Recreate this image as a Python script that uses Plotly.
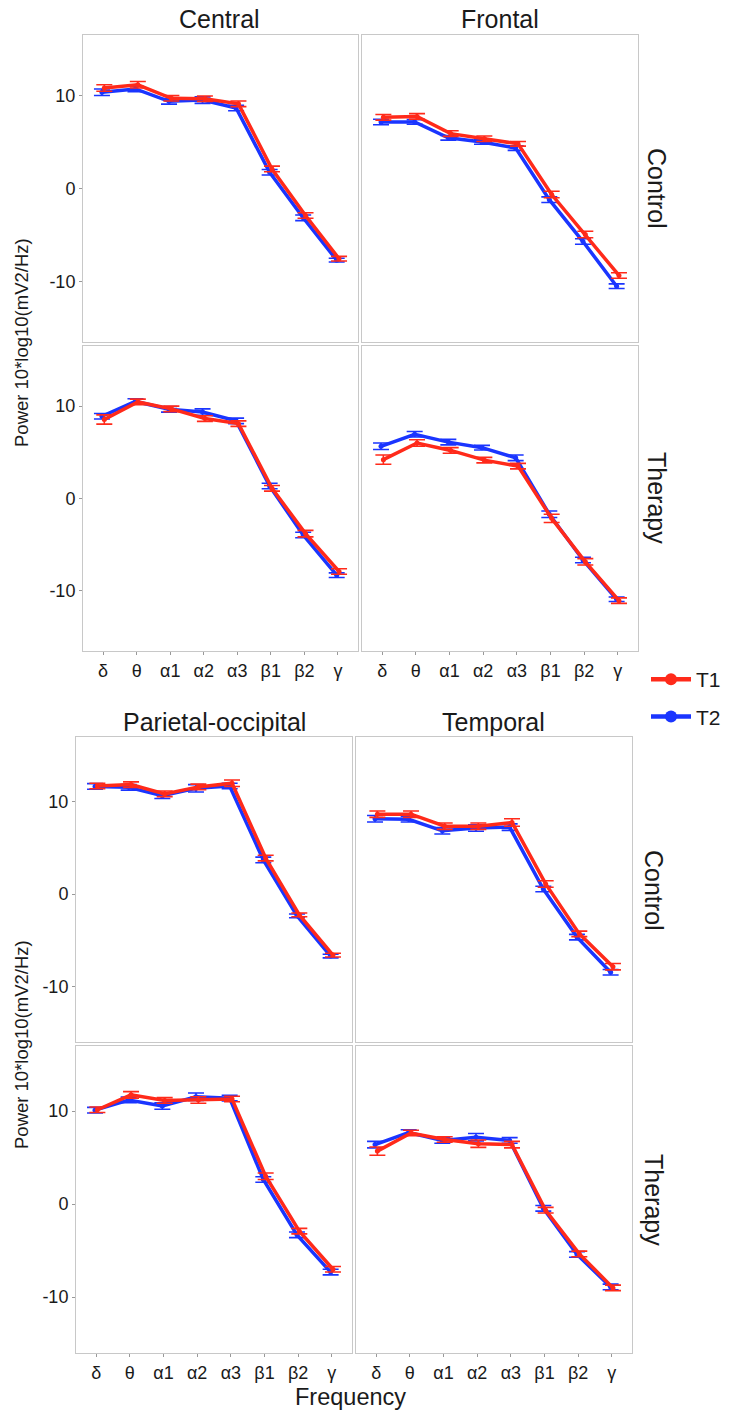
import plotly.graph_objects as go

W, H = 729, 1413

bands = ["δ", "θ", "α1", "α2", "α3", "β1", "β2", "γ"]
xpos = [1, 2, 3, 4, 5, 6, 7, 8]

# Means (T1 = red, T2 = blue)
central_control_t1 = [10.8, 11.15, 9.7, 9.65, 9.1, 2.1, -2.9, -7.55]
central_control_t2 = [10.35, 10.7, 9.37, 9.5, 8.65, 1.75, -3.15, -7.7]
frontal_control_t1 = [7.65, 7.75, 5.9, 5.35, 4.8, -0.65, -4.95, -9.35]
frontal_control_t2 = [7.15, 7.15, 5.45, 5.0, 4.35, -1.2, -5.7, -10.5]
central_therapy_t1 = [8.55, 10.45, 9.7, 8.65, 8.1, 1.1, -3.8, -7.9]
central_therapy_t2 = [8.9, 10.5, 9.65, 9.35, 8.4, 1.35, -3.95, -8.3]
frontal_therapy_t1 = [4.2, 6.0, 5.2, 4.15, 3.5, -2.15, -6.85, -11.05]
frontal_therapy_t2 = [5.65, 6.95, 6.1, 5.5, 4.4, -1.7, -6.65, -10.9]

parietal_control_t1 = [11.7, 11.85, 10.85, 11.6, 12.0, 3.9, -2.25, -6.6]
parietal_control_t2 = [11.65, 11.55, 10.65, 11.45, 11.7, 3.7, -2.35, -6.7]
temporal_control_t1 = [8.65, 8.65, 7.35, 7.35, 7.75, 1.1, -4.3, -7.85]
temporal_control_t2 = [8.15, 8.1, 6.85, 7.15, 7.25, 0.55, -4.65, -8.45]
parietal_therapy_t1 = [10.15, 11.75, 11.15, 11.2, 11.3, 3.0, -2.9, -7.0]
parietal_therapy_t2 = [10.1, 11.2, 10.55, 11.55, 11.4, 2.65, -3.3, -7.3]
temporal_therapy_t1 = [5.7, 7.65, 6.95, 6.5, 6.4, -0.65, -5.35, -9.0]
temporal_therapy_t2 = [6.4, 7.7, 6.85, 7.2, 6.85, -0.45, -5.4, -8.9]

# Standard errors (approximate)
central_control_e1 = [0.35, 0.35, 0.3, 0.3, 0.3, 0.3, 0.3, 0.25]
central_control_e2 = [0.35, 0.3, 0.3, 0.35, 0.3, 0.3, 0.3, 0.2]
frontal_control_e1 = [0.3, 0.3, 0.3, 0.3, 0.25, 0.35, 0.35, 0.3]
frontal_control_e2 = [0.3, 0.25, 0.25, 0.25, 0.25, 0.3, 0.3, 0.25]
central_therapy_e1 = [0.5, 0.3, 0.3, 0.3, 0.3, 0.3, 0.35, 0.3]
central_therapy_e2 = [0.3, 0.3, 0.3, 0.35, 0.3, 0.3, 0.3, 0.25]
frontal_therapy_e1 = [0.5, 0.35, 0.3, 0.3, 0.3, 0.45, 0.35, 0.3]
frontal_therapy_e2 = [0.35, 0.3, 0.3, 0.25, 0.3, 0.35, 0.3, 0.25]
parietal_control_e1 = [0.3, 0.3, 0.3, 0.3, 0.35, 0.3, 0.2, 0.2]
parietal_control_e2 = [0.3, 0.3, 0.3, 0.4, 0.3, 0.3, 0.2, 0.2]
temporal_control_e1 = [0.35, 0.35, 0.35, 0.35, 0.4, 0.35, 0.3, 0.35]
temporal_control_e2 = [0.35, 0.3, 0.35, 0.35, 0.35, 0.3, 0.3, 0.3]
parietal_therapy_e1 = [0.3, 0.35, 0.3, 0.35, 0.3, 0.35, 0.3, 0.3]
parietal_therapy_e2 = [0.3, 0.3, 0.35, 0.4, 0.3, 0.3, 0.3, 0.3]
temporal_therapy_e1 = [0.45, 0.3, 0.3, 0.4, 0.35, 0.3, 0.3, 0.3]
temporal_therapy_e2 = [0.35, 0.3, 0.3, 0.4, 0.3, 0.3, 0.3, 0.3]

RED = "#FF2A1A"
BLUE = "#1A35FF"
FONT = "Liberation Sans, Arial, Helvetica, sans-serif"

def px_x(a, b):
    return [a / W, b / W]

def px_y(top, bot):
    return [1 - bot / H, 1 - top / H]

# panels: (t1, e1, t2, e2, xdomain, ydomain, yrange, show_x_labels, show_y_labels)
panels = [
    (central_control_t1, central_control_e1, central_control_t2, central_control_e2,
     px_x(83, 358), px_y(35, 342), [-16.5, 16.5], False, True),
    (frontal_control_t1, frontal_control_e1, frontal_control_t2, frontal_control_e2,
     px_x(362, 638), px_y(35, 342), [-16.5, 16.5], False, False),
    (central_therapy_t1, central_therapy_e1, central_therapy_t2, central_therapy_e2,
     px_x(83, 358), px_y(346, 651), [-16.5, 16.5], True, True),
    (frontal_therapy_t1, frontal_therapy_e1, frontal_therapy_t2, frontal_therapy_e2,
     px_x(362, 638), px_y(346, 651), [-16.5, 16.5], True, False),
    (parietal_control_t1, parietal_control_e1, parietal_control_t2, parietal_control_e2,
     px_x(76, 352), px_y(737, 1042), [-16, 17], False, True),
    (temporal_control_t1, temporal_control_e1, temporal_control_t2, temporal_control_e2,
     px_x(356, 632), px_y(737, 1042), [-16, 17], False, False),
    (parietal_therapy_t1, parietal_therapy_e1, parietal_therapy_t2, parietal_therapy_e2,
     px_x(76, 352), px_y(1046, 1353), [-16, 17], True, True),
    (temporal_therapy_t1, temporal_therapy_e1, temporal_therapy_t2, temporal_therapy_e2,
     px_x(356, 632), px_y(1046, 1353), [-16, 17], True, False),
]

fig = go.Figure()
layout = {}
for i, (t1, e1, t2, e2, xd, yd, yr, showx, showy) in enumerate(panels):
    n = i + 1
    xa = "x" if n == 1 else f"x{n}"
    ya = "y" if n == 1 else f"y{n}"
    for vals, errs, col, name, shift in [
        (t2, e2, BLUE, "T2", -0.035),
        (t1, e1, RED, "T1", 0.035),
    ]:
        fig.add_trace(go.Scatter(
            x=[p + shift for p in xpos], y=vals,
            mode="lines+markers",
            line=dict(color=col, width=3.5),
            marker=dict(color=col, size=5),
            error_y=dict(type="data", array=errs, visible=True, color=col,
                         thickness=1.6, width=8),
            name=name, legendgroup=name, showlegend=False,
            xaxis=xa, yaxis=ya, hoverinfo="skip",
        ))
    layout["xaxis" if n == 1 else f"xaxis{n}"] = dict(
        domain=xd, range=[0.4, 8.6], tickvals=xpos, ticktext=bands,
        showticklabels=showx, showgrid=False, zeroline=False,
        showline=True, mirror=True, linecolor="#C8C8C8", linewidth=1,
        ticks="outside" if showx else "", ticklen=3, tickcolor="#999999",
        tickfont=dict(size=18, color="#1a1a1a", family=FONT),
        anchor=ya, fixedrange=True,
    )
    layout["yaxis" if n == 1 else f"yaxis{n}"] = dict(
        domain=yd, range=yr, tickvals=[-10, 0, 10], ticktext=["-10", "0", "10"],
        showticklabels=showy, showgrid=False, zeroline=False,
        showline=True, mirror=True, linecolor="#C8C8C8", linewidth=1,
        ticks="outside" if showy else "", ticklen=3, tickcolor="#999999",
        tickfont=dict(size=18, color="#1a1a1a", family=FONT),
        anchor=xa, fixedrange=True,
    )

# Legend entries (key glyphs with larger point, like ggplot's legend keys)
for name, col, rank in [("T1", RED, 1), ("T2", BLUE, 2)]:
    fig.add_trace(go.Scatter(
        x=[None], y=[None], mode="lines+markers", name=name,
        line=dict(color=col, width=4.5), marker=dict(color=col, size=12),
        legendgroup=name, legendrank=rank, showlegend=True, hoverinfo="skip",
    ))

fig.update_layout(**layout)

def ann(text, x, y, size, angle=0):
    return dict(text=text, x=x / W, y=1 - y / H, xref="paper", yref="paper",
                showarrow=False, textangle=angle, xanchor="center", yanchor="middle",
                font=dict(size=size, color="#1a1a1a", family=FONT))

annotations = [
    ann("Central", 220, 19, 25),
    ann("Frontal", 500, 19, 25),
    ann("Parietal-occipital", 214, 722, 25),
    ann("Temporal", 494, 722, 25),
    ann("Control", 657, 188, 25, 90),
    ann("Therapy", 657, 498, 25, 90),
    ann("Control", 654, 890, 25, 90),
    ann("Therapy", 654, 1200, 25, 90),
    ann("Power 10*log10(mV2/Hz)", 21, 343, 18.5, -90),
    ann("Power 10*log10(mV2/Hz)", 21, 1045, 18.5, -90),
    ann("Frequency", 350, 1397, 23.5),
]

fig.update_layout(
    width=W, height=H,
    margin=dict(l=0, r=0, t=0, b=0),
    paper_bgcolor="white", plot_bgcolor="white",
    annotations=annotations,
    showlegend=True,
    legend=dict(
        x=646 / W, y=1 - 659 / H, xanchor="left", yanchor="top",
        font=dict(size=21, color="#1a1a1a", family=FONT),
        bgcolor="rgba(0,0,0,0)", tracegroupgap=7,
        itemwidth=40,
    ),
)

fig.write_html("out.html")
